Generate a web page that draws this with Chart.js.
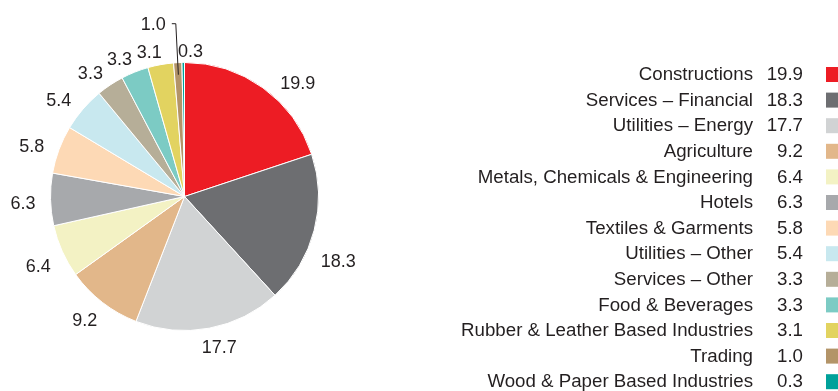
<!DOCTYPE html>
<html>
<head>
<meta charset="utf-8">
<script src="https://cdn.jsdelivr.net/npm/chart.js@4.4.0/dist/chart.umd.min.js"></script>
<style>
  html, body { margin: 0; padding: 0; background: #fff; }
  #wrap { width: 838px; height: 391px; position: relative; }
</style>
</head>
<body>
<div id="wrap"><canvas id="myChart" width="838" height="391"></canvas></div>
<script>
//sectors and their shares (%)
const sectors = ['Constructions', 'Services \u2013 Financial', 'Utilities \u2013 Energy', 'Agriculture',
  'Metals, Chemicals & Engineering', 'Hotels', 'Textiles & Garments', 'Utilities \u2013 Other',
  'Services \u2013 Other', 'Food & Beverages', 'Rubber & Leather Based Industries', 'Trading',
  'Wood & Paper Based Industries'];
const shares = [19.9, 18.3, 17.7, 9.2, 6.4, 6.3, 5.8, 5.4, 3.3, 3.3, 3.1, 1.0, 0.3];
const colours = ['#ed1c24', '#6d6e71', '#d1d3d4', '#e2b78a', '#f3f2c4', '#a7a9ac', '#fdd9b5',
  '#c8e8ef', '#b6ae98', '#7ccbc4', '#e2d360', '#b39468', '#00a19a'];

const fontFamily = '"Liberation Sans", Arial, Helvetica, sans-serif';
const textColour = '#231f20';

//labels round the pie, with a leader line for the thin Trading slice
const pieLabels = {
  id: 'pieLabels',
  afterDatasetsDraw(chart) {
    const ctx = chart.ctx;
    const arcs = chart.getDatasetMeta(0).data;
    //small angle nudges (degrees) so labels sit where the original has them
    const nudge = [8.6, 7.6, -2.6, 1.5, -0.7, -0.5, -1.5, -2.7, -3.2, -3.2, -3.2, 0, 2.9];
    ctx.save();
    ctx.font = '18px ' + fontFamily;
    ctx.fillStyle = textColour;
    ctx.textBaseline = 'middle';
    arcs.forEach((arc, i) => {
      const p = arc.getProps(['x', 'y', 'startAngle', 'endAngle', 'outerRadius']);
      const txt = shares[i].toFixed(1);
      const a = (p.startAngle + p.endAngle) / 2 + nudge[i] * Math.PI / 180;
      const cx = Math.cos(a), sy = Math.sin(a);
      if (sectors[i] === 'Trading') {
        const x0 = p.x + cx * p.outerRadius * 0.91, y0 = p.y + sy * p.outerRadius * 0.91;
        const x1 = p.x + cx * (p.outerRadius + 39), y1 = p.y + sy * (p.outerRadius + 39);
        ctx.strokeStyle = '#231f20';
        ctx.lineWidth = 1;
        ctx.beginPath();
        ctx.moveTo(x0, y0);
        ctx.lineTo(x1, y1);
        ctx.lineTo(x1 - 4, y1);
        ctx.stroke();
        ctx.textAlign = 'right';
        ctx.fillText(txt, x1 - 10, y1 + 1);
        return;
      }
      const hw = ctx.measureText(txt).width / 2, hh = 3;
      const d = p.outerRadius + 10 + (hw + 5) * Math.abs(cx) + hh * Math.abs(sy);
      ctx.textAlign = 'center';
      ctx.fillText(txt, p.x + cx * d, p.y + sy * d + 3);
    });
    ctx.restore();
  }
};

//legend on the right: name, value, colour box
const sideLegend = {
  id: 'sideLegend',
  afterDraw(chart) {
    const ctx = chart.ctx;
    ctx.save();
    ctx.font = '18.7px ' + fontFamily;
    ctx.textBaseline = 'middle';
    sectors.forEach((name, i) => {
      const y = 75 + i * 25.6;
      ctx.fillStyle = textColour;
      ctx.textAlign = 'right';
      ctx.fillText(name, 753, y);
      ctx.fillText(shares[i].toFixed(1), 803, y);
      ctx.fillStyle = colours[i];
      ctx.fillRect(826, y - 8, 16, 15);
    });
    ctx.restore();
  }
};

new Chart(document.getElementById('myChart'), {
  type: 'pie',
  data: {
    labels: sectors,
    datasets: [{
      data: shares,
      backgroundColor: colours,
      borderColor: '#ffffff',
      borderWidth: 1
    }]
  },
  options: {
    responsive: false,
    animation: false,
    layout: { padding: { left: 50, right: 519, top: 62, bottom: 60 } },
    plugins: {
      legend: { display: false },
      tooltip: { enabled: false }
    }
  },
  plugins: [pieLabels, sideLegend]
});
</script>
</body>
</html>
